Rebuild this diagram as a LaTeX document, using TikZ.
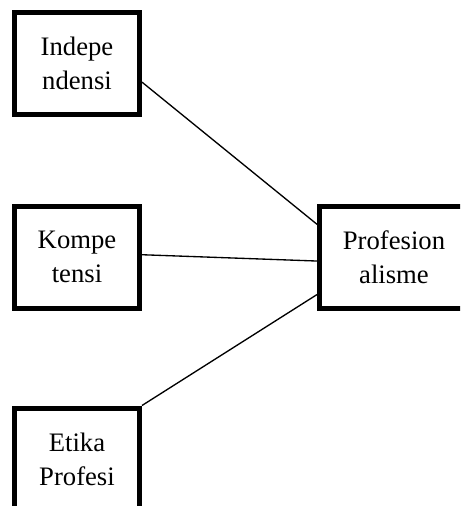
\documentclass[tikz,border=0pt]{standalone}
\usepackage{fontspec}
\setmainfont{Liberation Serif}
\tikzset{
  box/.style = {rectangle, draw, line width=3.75pt, align=center,
                minimum width=93.75pt, minimum height=76.5pt,
                inner sep=2pt, font=\fontsize{20}{25.5}\selectfont},
  link/.style = {line width=1pt}
}

\begin{document}
\begin{tikzpicture}[x=0.75pt, y=-0.75pt]
	\useasboundingbox (0,0) rectangle (460,506);
	\clip (0,0) rectangle (460,506);

	% Variabel X
	\node[box] (indep) at (77,63.5) {Indepe\\ndensi};
	\node[box] (komp) at (77,257) {Kompe\\tensi};
	\node[box] (etika) at (77,459) {Etika\\Profesi};

	% Variabel Y
	\node[box, minimum width=111.75pt] (prof) at (394,257) {Profesion\\alisme};

	% Hubungan
	\draw[link] (indep.-16.7) -- (prof.157.4);
	\draw[link] (komp.2.6) -- (prof.183.7);
	\draw[link] (etika.north east) -- (prof.206.9);
\end{tikzpicture}
\end{document}
